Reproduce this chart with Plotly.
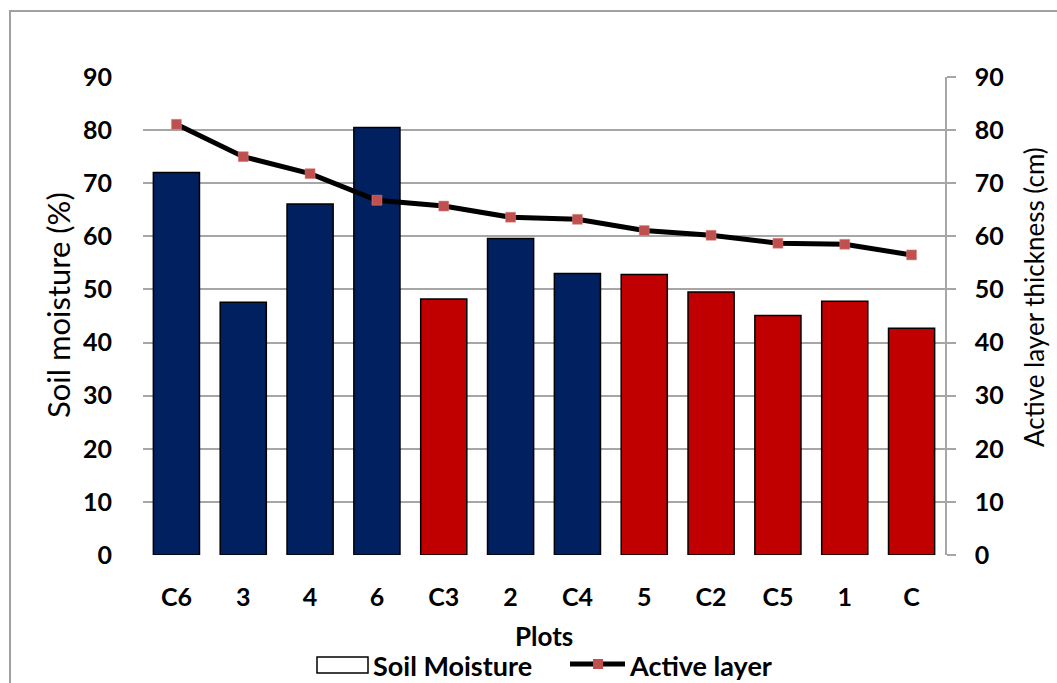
import plotly.graph_objects as go

# Plot identifiers in display order
plots = ["C6", "3", "4", "6", "C3", "2", "C4", "5", "C2", "C5", "1", "C"]

# Soil moisture (%) per plot
soil_moisture = [72.0, 47.6, 66.1, 80.5, 48.2, 59.6, 53.0, 52.8, 49.5, 45.1, 47.8, 42.7]

# Active layer thickness (cm) per plot
active_layer = [81.1, 75.0, 71.8, 66.8, 65.7, 63.6, 63.2, 61.1, 60.2, 58.7, 58.5, 56.5]

# Bar group colour for each plot
bar_colors = ["#002060", "#002060", "#002060", "#002060", "#C00000", "#002060",
              "#002060", "#C00000", "#C00000", "#C00000", "#C00000", "#C00000"]

W, H = 1057, 683
ML, MR, MT, MB = 143, 112, 77, 128
PW, PH = W - ML - MR, H - MT - MB

FONT = "Lato"


def px_x(x):
    return (x - ML) / PW


def px_y(y):
    return (H - MB - y) / PH


fig = go.Figure()

fig.add_trace(go.Bar(
    x=plots, y=soil_moisture, name="Soil Moisture",
    marker=dict(color=bar_colors, line=dict(color="black", width=1.5)),
    width=0.69, showlegend=False,
))

fig.add_trace(go.Scatter(
    x=plots, y=active_layer, name="Active layer", yaxis="y2",
    mode="lines+markers",
    line=dict(color="black", width=5),
    marker=dict(symbol="square", size=10, color="#C0504D",
                line=dict(color="#D98C8A", width=0.5)),
    cliponaxis=False, showlegend=False,
))

grid = "#A6A6A6"
tickfont = dict(family=FONT, size=25, color="black", weight="bold")

fig.update_layout(
    width=W, height=H,
    margin=dict(l=ML, r=MR, t=MT, b=MB),
    paper_bgcolor="white", plot_bgcolor="white",
    bargap=0.31,
    xaxis=dict(
        type="category", range=[-0.5, 11.5],
        showline=False, showgrid=False, zeroline=False,
        ticks="outside", ticklen=20, tickcolor="rgba(0,0,0,0)",
        tickfont=tickfont,
    ),
    yaxis=dict(
        range=[0, 90], dtick=10, showgrid=True, gridcolor=grid, gridwidth=1.5,
        zeroline=False, showline=False,
        ticks="outside", ticklen=25, tickcolor="rgba(0,0,0,0)",
        tickfont=tickfont,
    ),
    yaxis2=dict(
        range=[0, 90], dtick=10, overlaying="y", side="right",
        showgrid=False, zeroline=False,
        showline=True, linecolor=grid, linewidth=1.5,
        ticks="outside", ticklen=9, tickcolor=grid, tickwidth=1.5,
        ticklabelstandoff=14,
        tickfont=tickfont,
    ),
)

# Axis titles
fig.add_annotation(text="Soil moisture (%)", textangle=-90,
                   x=px_x(58), y=px_y(305), xref="paper", yref="paper",
                   showarrow=False, xanchor="center", yanchor="middle",
                   font=dict(family=FONT, size=31, color="black"))
fig.add_annotation(text="Active layer thickness (cm)", textangle=-90,
                   x=px_x(1034), y=px_y(297), xref="paper", yref="paper",
                   showarrow=False, xanchor="center", yanchor="middle",
                   font=dict(family=FONT, size=26, color="black"))
fig.add_annotation(text="Plots", x=px_x(544), y=px_y(636),
                   xref="paper", yref="paper", showarrow=False,
                   xanchor="center", yanchor="middle",
                   font=dict(family=FONT, size=26, color="black", weight="bold"))

# Legend drawn as shapes and labels
legend_font = dict(family=FONT, size=27, color="black", weight="bold")
fig.add_shape(type="rect", xref="paper", yref="paper",
              x0=px_x(317), x1=px_x(368), y0=px_y(673), y1=px_y(657),
              line=dict(color="black", width=1.5), fillcolor="white")
fig.add_annotation(text="Soil Moisture", x=px_x(371), y=px_y(665),
                   xref="paper", yref="paper", showarrow=False,
                   xanchor="left", yanchor="middle", font=legend_font)
fig.add_shape(type="line", xref="paper", yref="paper",
              x0=px_x(570), x1=px_x(625), y0=px_y(664), y1=px_y(664),
              line=dict(color="black", width=5))
fig.add_shape(type="rect", xref="paper", yref="paper",
              x0=px_x(593), x1=px_x(603), y0=px_y(669), y1=px_y(659),
              line=dict(color="#C0504D", width=0), fillcolor="#C0504D")
fig.add_annotation(text="Active layer", x=px_x(627), y=px_y(665),
                   xref="paper", yref="paper", showarrow=False,
                   xanchor="left", yanchor="middle", font=legend_font)

# Chart area border
fig.add_shape(type="rect", xref="paper", yref="paper",
              x0=px_x(10), x1=px_x(1070), y0=px_y(11), y1=px_y(700),
              line=dict(color="#A0A0A0", width=2), fillcolor="rgba(0,0,0,0)",
              layer="below")

fig.write_html("out.html")
